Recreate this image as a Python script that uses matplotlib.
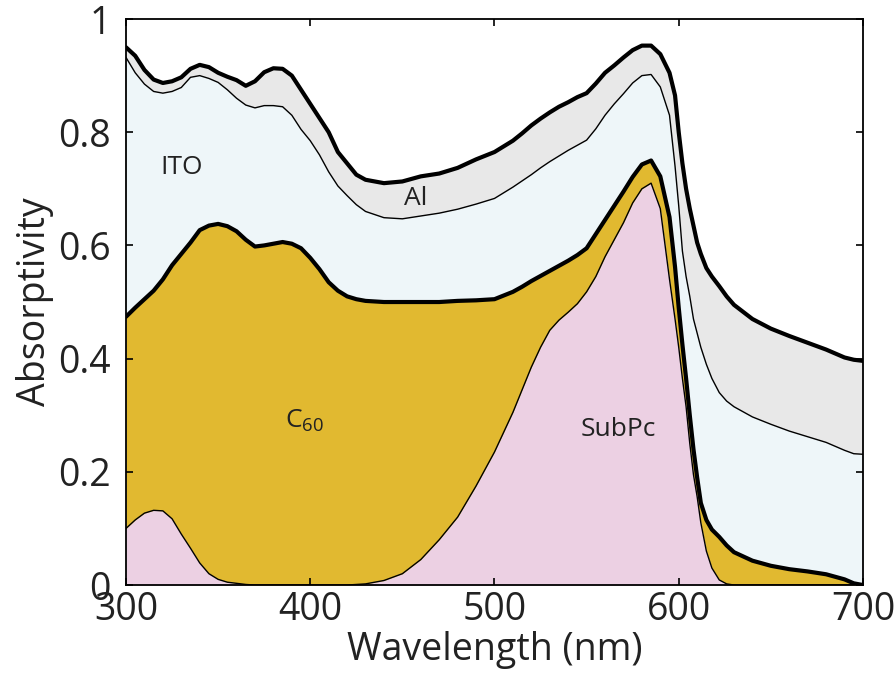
import matplotlib
matplotlib.use('Agg')
import matplotlib.pyplot as plt
import numpy as np

plt.rcParams['font.family'] = ['Open Sans', 'DejaVu Sans']
plt.rcParams['mathtext.fontset'] = 'custom'
plt.rcParams['mathtext.rm'] = 'Open Sans'
plt.rcParams['mathtext.it'] = 'Open Sans'

# wavelength grid (nm)
wavelength = [300, 305, 310, 315, 320, 325, 330, 335, 340, 345, 350, 355, 360, 365,
              370, 375, 380, 385, 390, 395, 400, 405, 410, 415, 420, 425, 430,
              440, 450, 460, 470, 480, 490, 500, 510, 515, 520, 525, 530, 535,
              540, 545, 550, 555, 560,
              565, 570, 575, 580, 585, 590, 595, 598, 600, 602, 604, 606, 608,
              610, 612, 615, 618, 622, 626, 630, 640, 650, 660, 670, 680, 690,
              695, 700]

# absorption in each layer
subpc = [0.100, 0.115, 0.127, 0.132, 0.131, 0.117, 0.090, 0.065, 0.039, 0.020,
         0.010, 0.005, 0.003, 0.001, 0.000, 0.000, 0.000, 0.000, 0.000, 0.000,
         0.000, 0.000, 0.000, 0.000, 0.000, 0.001, 0.002,
         0.008, 0.020, 0.045, 0.080, 0.120, 0.175, 0.235, 0.305, 0.345, 0.385,
         0.420, 0.450, 0.468,
         0.482, 0.497, 0.518, 0.545, 0.580,
         0.610, 0.640, 0.675, 0.700, 0.710, 0.665, 0.540, 0.470, 0.420, 0.365,
         0.315, 0.250, 0.195,
         0.156, 0.110, 0.060, 0.030, 0.009, 0.002, 0.000, 0.000, 0.000, 0.000,
         0.000, 0.000, 0.000,
         0.000, 0.000]

c60 = [0.374, 0.375, 0.378, 0.388, 0.409, 0.448, 0.495, 0.540, 0.588, 0.615,
       0.628, 0.629, 0.622, 0.609, 0.598, 0.600, 0.603, 0.606, 0.603, 0.595,
       0.578, 0.558, 0.535, 0.520, 0.510, 0.504, 0.500,
       0.492, 0.480, 0.455, 0.420, 0.382, 0.328, 0.270, 0.213, 0.182, 0.152,
       0.126, 0.105, 0.096,
       0.091, 0.086, 0.077, 0.075, 0.065,
       0.060, 0.055, 0.046, 0.043, 0.040, 0.057, 0.110, 0.092, 0.070, 0.060,
       0.050, 0.050, 0.045,
       0.034, 0.035, 0.055, 0.068, 0.076, 0.068, 0.058, 0.043, 0.034, 0.028,
       0.024, 0.019, 0.010,
       0.003, 0.000]

ito = [0.458, 0.415, 0.380, 0.352, 0.329, 0.307, 0.294, 0.292, 0.273, 0.260,
       0.250, 0.241, 0.235, 0.238, 0.245, 0.247, 0.244, 0.239, 0.227, 0.210,
       0.207, 0.202, 0.195, 0.185, 0.178, 0.167, 0.158,
       0.149, 0.147, 0.152, 0.157, 0.162, 0.170, 0.178, 0.185, 0.187, 0.188,
       0.191, 0.193, 0.194,
       0.195, 0.194, 0.191, 0.186, 0.185,
       0.180, 0.173, 0.166, 0.157, 0.152, 0.158, 0.180, 0.178, 0.180, 0.165,
       0.180, 0.210, 0.230,
       0.255, 0.275, 0.275, 0.267, 0.255, 0.255, 0.257, 0.254, 0.250, 0.244,
       0.238, 0.233, 0.228,
       0.229, 0.231]

al = [0.018, 0.030, 0.025, 0.021, 0.018, 0.018, 0.018, 0.015, 0.019, 0.020,
      0.017, 0.023, 0.032, 0.034, 0.047, 0.059, 0.066, 0.067, 0.070, 0.070,
      0.065, 0.065, 0.070, 0.060, 0.057, 0.053, 0.056,
      0.061, 0.066, 0.070, 0.070, 0.073, 0.079, 0.082, 0.082, 0.084, 0.087,
      0.087, 0.087, 0.087,
      0.085, 0.085, 0.083, 0.080, 0.075,
      0.068, 0.064, 0.058, 0.053, 0.051, 0.058, 0.075, 0.125, 0.130, 0.155,
      0.155, 0.155, 0.165,
      0.160, 0.165, 0.170, 0.180, 0.188, 0.185, 0.180, 0.173, 0.169, 0.168,
      0.166, 0.164, 0.164,
      0.166, 0.165]

layer_colors = ['#ecd0e3', '#e1b930', '#eef6f9', '#e8e8e8']
edge_widths = [1.0, 3.0, 1.0, 3.0]

x = np.array(wavelength)
tops = np.cumsum([subpc, c60, ito, al], axis=0)

fig = plt.figure(figsize=(8.95, 6.79), dpi=100)
ax = fig.add_axes([0.1408, 0.1384, 0.8234, 0.8336])

bottom = np.zeros_like(x, dtype=float)
for top, color in zip(tops, layer_colors):
    ax.fill_between(x, bottom, top, color=color, lw=0)
    bottom = top
for top, lw in zip(tops, edge_widths):
    ax.plot(x, top, color='black', lw=lw, solid_joinstyle='round',
            solid_capstyle='round')

txt = '#222222'
ax.text(330, 0.737, 'ITO', fontsize=19, color=txt, ha='center', va='center')
ax.text(457, 0.683, 'Al', fontsize=19, color=txt, ha='center', va='center')
ax.text(397, 0.29, 'C$_{60}$', fontsize=19, color=txt, ha='center', va='center')
ax.text(567, 0.275, 'SubPc', fontsize=19, color=txt, ha='center', va='center')

ax.set_xlim(300, 700)
ax.set_ylim(0, 1)
ax.set_xticks([300, 400, 500, 600, 700])
ax.set_yticks([0, 0.2, 0.4, 0.6, 0.8, 1])
ax.set_yticklabels(['0', '0.2', '0.4', '0.6', '0.8', '1'])
ax.tick_params(direction='in', length=5, width=1.2, top=True, right=True,
               labelsize=27, colors='black', labelcolor=txt)
ax.tick_params(axis='x', pad=4)
ax.tick_params(axis='y', pad=11)
for s in ax.spines.values():
    s.set_linewidth(1.3)
ax.set_xlabel('Wavelength (nm)', fontsize=27, color=txt, labelpad=2)
ax.set_ylabel('Absorptivity', fontsize=27, color=txt, labelpad=3)

fig.savefig('out.png', dpi=100)
